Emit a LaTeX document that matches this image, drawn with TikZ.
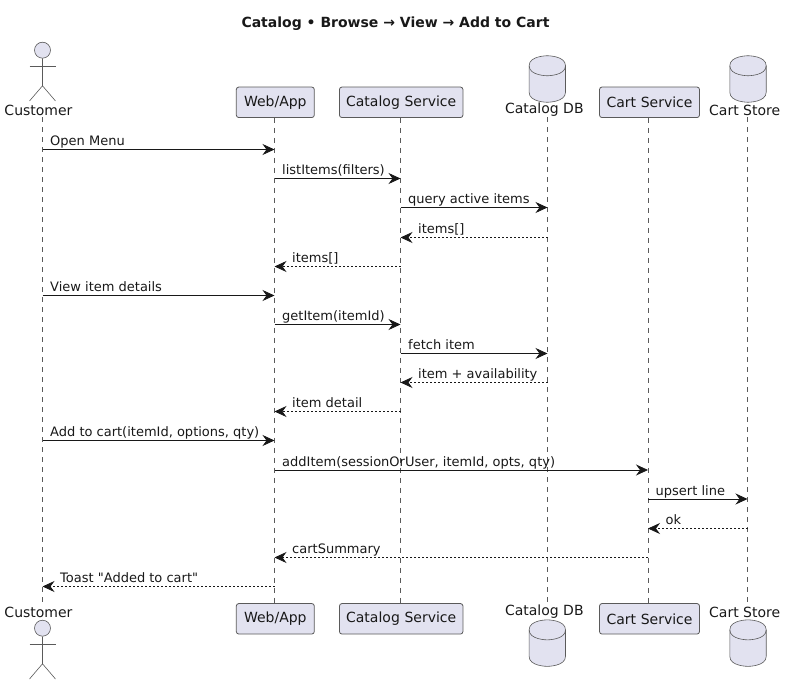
\documentclass[tikz,border=0pt]{standalone}
\usepackage{fontspec}
\newfontfamily\dejavu{DejaVu Sans}
\usetikzlibrary{arrows.meta}
\definecolor{partfill}{HTML}{E2E2F0}
\definecolor{partline}{HTML}{5A5A5A}
\definecolor{msgline}{HTML}{181818}
\tikzset{
every node/.style={text=msgline,font=\dejavu\fontsize{14}{16}\selectfont},
partbox/.style={draw=partline,fill=partfill,line width=.8pt,rounded corners=2.5pt,minimum height=30.5pt,inner sep=0pt,text width=#1,align=center},
dbicon/.style={minimum width=36.4pt,minimum height=46.5pt,inner sep=0pt},
actorlabel/.style={inner sep=0pt,minimum height=14pt},
actorline/.style={draw=partline,line width=.6pt},
lifeline/.style={draw=partline,line width=.5pt,dash pattern=on 5pt off 5pt},
callmsg/.style={draw=msgline,line width=.8pt,-{Stealth[length=12pt,width=11pt,inset=4pt]}},
backmsg/.style={callmsg,dash pattern=on 2pt off 2pt},
msgtext/.style={font=\dejavu\fontsize{13}{15}\selectfont,inner sep=0pt,anchor=base west}
}
\begin{document}
\begin{tikzpicture}[x=1pt,y=-1pt]
\useasboundingbox (0,0) rectangle (786,684);
\node[font=\dejavu\fontsize{14}{16}\bfseries\selectfont] (title) at (395.5,24) {Catalog • Browse → View → Add to Cart};
% top row
\node[actorlabel] (cust) at (38.5,110) {Customer};
\node[partbox=78pt] (web) at (275.3,102.3) {Web/App};
\node[partbox=123.5pt] (cat) at (401.2,102.3) {Catalog Service};
\node[actorlabel] (catdb) at (544.3,110) {Catalog DB};
\node[partbox=100pt] (cart) at (649.5,102.3) {Cart Service};
\node[actorlabel] (store) at (744.7,110) {Cart Store};
\node[dbicon] (catdbtop) at (547.5,79.2) {};
\node[dbicon] (storetop) at (748.2,79.2) {};
% bottom row
\node[actorlabel] (custb) at (38.5,612) {Customer};
\node[partbox=78pt] (webb) at (275.3,618.8) {Web/App};
\node[partbox=123.5pt] (catb) at (401.2,618.8) {Catalog Service};
\node[actorlabel] (catdbb) at (544.3,612) {Catalog DB};
\node[partbox=100pt] (cartb) at (649.5,618.8) {Cart Service};
\node[actorlabel] (storeb) at (744.7,612) {Cart Store};
\node[dbicon] (catdbbot) at (547.5,643.3) {};
\node[dbicon] (storebot) at (748.2,643.3) {};
% cans
\foreach \name in {catdbtop,storetop,catdbbot,storebot} {
\draw[actorline,fill=partfill,shift={(\name.north west)}] (0,10) .. controls (0,0) and (18.2,0) .. (18.2,0) .. controls (18.2,0) and (36.4,0) .. (36.4,10) -- (36.4,36.5) .. controls (36.4,46.5) and (18.2,46.5) .. (18.2,46.5) .. controls (18.2,46.5) and (0,46.5) .. (0,36.5) -- cycle;
\draw[actorline,shift={(\name.north west)}] (0,10) .. controls (0,20) and (18.2,20) .. (18.2,20) .. controls (18.2,20) and (36.4,20) .. (36.4,10);
}
% stick figures
\foreach \name/\ytop in {custtop/42.2,custbot/620.2} {
\node[circle,draw=partline,fill=partfill,line width=.6pt,minimum size=16pt,inner sep=0pt] (\name) at (42.5,\ytop+8) {};
\draw[actorline] (\name.south) -- ++(0,27.3) -- ++(-13,15.2) ++(13,-15.2) -- ++(13,15.2);
\draw[actorline] (29.5,\ytop+24) -- (55.5,\ytop+24);
}
% lifelines
\coordinate (l1) at (42.5,0);
\coordinate (l2) at (274.5,0);
\coordinate (l3) at (400.5,0);
\coordinate (l4) at (547.5,0);
\coordinate (l5) at (648,0);
\coordinate (l6) at (747.5,0);
\foreach \col/\from/\to in {l1/cust/custb,l2/web/webb,l3/cat/catb,l4/catdb/catdbb,l5/cart/cartb,l6/store/storeb}
\draw[lifeline] (\col |- \from.south) -- (\col |- \to.north);
% messages
\foreach \y/\from/\to/\txt in {149.5/l1/l2/{Open Menu},178.5/l2/l3/{listItems(filters)},207.5/l3/l4/{query active items},295.5/l1/l2/{View item details},324.5/l2/l3/{getItem(itemId)},353.5/l3/l4/{fetch item},440.5/l1/l2/{Add to cart(itemId, options, qty)},470/l2/l5/{addItem(sessionOrUser, itemId, opts, qty)},499/l5/l6/{upsert line}}
{
\draw[callmsg] (\from |- 0,\y) -- (\to |- 0,\y);
\node[msgtext] at ([xshift=7.5pt]\from |- 0,\y-4) {\txt};
}
\foreach \y/\from/\to/\txt in {237.5/l4/l3/{items[]},266.5/l3/l2/{items[]},382.5/l4/l3/{item + availability},411.5/l3/l2/{item detail},528.5/l6/l5/{ok},557.5/l5/l2/{cartSummary},586.5/l2/l1/{Toast "Added to cart"}}
{
\draw[backmsg] (\from |- 0,\y) -- (\to |- 0,\y);
\node[msgtext] at ([xshift=17.5pt]\to |- 0,\y-4) {\txt};
}
\end{tikzpicture}
\end{document}
